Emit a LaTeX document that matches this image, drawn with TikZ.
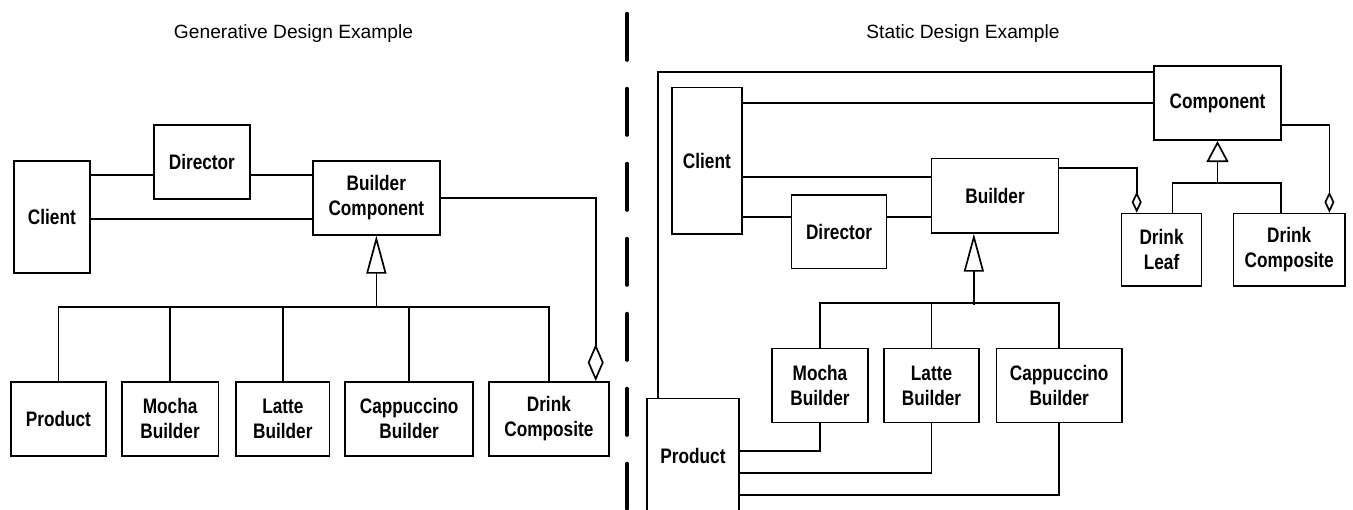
\documentclass[tikz,border=0pt]{standalone}
\usepackage{fontspec}
\setmainfont{Liberation Sans}
\newfontface\boxfont[FakeStretch=0.82]{Liberation Sans Bold}
\usetikzlibrary{arrows.meta, calc}

\begin{document}
\begin{tikzpicture}[x = 0.5pt, y = -0.5pt, line width = 0.85pt,
        box/.style = {draw, anchor = north west, inner sep = 0pt, align = center,
            font = \fontsize{10.5}{12.5}\boxfont},
        title/.style = {anchor = base, font = \fontsize{9.6}{11}\selectfont},
        divider/.style = {line width = 1.7pt, line cap = round, dash pattern = on 23.3pt off 14.2pt},
        isa/.style = {-{Triangle[open, length = 19pt, width = 10pt]}},
        isa small/.style = {-{Triangle[open, length = 10.5pt, width = 11pt]}},
        has/.style = {-{Diamond[open, length = 18.5pt, width = 8pt]}},
        has small/.style = {-{Diamond[open, length = 10.5pt, width = 5pt]}}]
    \useasboundingbox (0, 0) rectangle (1353, 509);

    \node [title] (gentitle) at (293.5, 38.5) {Generative Design Example};
    \node [title] (stattitle) at (963, 38.5) {Static Design Example};
    \draw [divider] (627, 13.5) -- (627, 509);

    % generative
    \node [box, minimum width = 38pt, minimum height = 56pt] (client) at (13, 160) {Client};
    \node [box, minimum width = 48pt, minimum height = 37pt] (director) at (153, 124) {Director};
    \node [box, minimum width = 63.5pt, minimum height = 37pt] (bcomp) at (312, 160) {Builder\\Component};
    \node [box, minimum width = 47.5pt, minimum height = 37pt] (product) at (10, 381) {Product};
    \node [box, minimum width = 48.25pt, minimum height = 37pt] (mocha) at (121, 381) {Mocha\\Builder};
    \node [box, minimum width = 46.7pt, minimum height = 37pt] (latte) at (235.3, 381) {Latte\\Builder};
    \node [box, minimum width = 63.9pt, minimum height = 37pt] (capp) at (344.4, 381) {Cappuccino\\Builder};
    \node [box, minimum width = 60pt, minimum height = 37pt] (drinkc) at (488, 381) {Drink\\Composite};

    \draw (client.east |- 0,175) -- (director.west |- 0,175);
    \draw (director.east |- 0,175) -- (bcomp.west |- 0,175);
    \draw (client.east |- 0,219) -- (bcomp.west |- 0,219);
    \draw [has] (bcomp.east) -| ($(drinkc.north east) + (-14, 0)$);
    \draw (product.north) |- (drinkc.north |- 0,307) -- (drinkc.north);
    \foreach \n in {mocha, latte, capp}
        \draw (\n.north) -- (\n.north |- 0,307);
    \draw [isa] (bcomp.south |- 0,307) -- (bcomp.south);

    % static
    \node [box, minimum width = 35pt, minimum height = 73.3pt] (sclient) at (671, 86.7) {Client};
    \node [box, minimum width = 47.5pt, minimum height = 36.85pt] (sdirector) at (790.7, 194) {Director};
    \node [box, minimum width = 63.5pt, minimum height = 37.15pt] (builder) at (930.7, 157.7) {Builder};
    \node [box, minimum width = 63.35pt, minimum height = 37.15pt] (component) at (1153.3, 65) {Component};
    \node [box, minimum width = 40pt, minimum height = 36.15pt] (leaf) at (1120.7, 212.7) {Drink\\Leaf};
    \node [box, minimum width = 55.65pt, minimum height = 36.15pt] (sdrinkc) at (1232.7, 212.7) {Drink\\Composite};
    \node [box, minimum width = 48.15pt, minimum height = 37pt] (smocha) at (771, 347.7) {Mocha\\Builder};
    \node [box, minimum width = 47.35pt, minimum height = 37pt] (slatte) at (883.3, 347.7) {Latte\\Builder};
    \node [box, minimum width = 62.65pt, minimum height = 37pt] (scapp) at (995.7, 347.7) {Cappuccino\\Builder};
    \node [box, minimum width = 46.15pt, minimum height = 57.15pt] (sproduct) at (646, 397.7) {Product};

    \draw ($(sproduct.north west) + (12, 0)$) |- (component.west |- 0,72);
    \draw (sclient.east |- component.west) -- (component.west);
    \draw (sclient.east |- 0,176.7) -- (builder.west |- 0,176.7);
    \draw (sclient.east |- 0,216.7) -- (sdirector.west |- 0,216.7);
    \draw (sdirector.east |- 0,216.7) -- (builder.west |- 0,216.7);
    \draw [has small] (builder.east |- 0,168.3) -| ($(leaf.north west) + (16, 0)$);
    \draw [has small] (component.east |- 0,125) -| ($(sdrinkc.north east) + (-16.3, 0)$);
    \draw ($(leaf.north) + (11, 0)$) -- ++(0, -29.4) -| ($(sdrinkc.north) + (-8.3, 0)$);
    \draw [isa small] (component.south |- 0,183.3) -- (component.south);
    \draw (smocha.north) |- (scapp.north |- 0,303.3) -- (scapp.north);
    \draw (slatte.north) -- (slatte.north |- 0,303.3);
    \draw [isa] ($(builder.south) + (-21.2, 71.6)$) -- ($(builder.south) + (-21.2, 0)$);
    \draw (smocha.south) |- (sproduct.east |- 0,450.7);
    \draw (slatte.south) |- (sproduct.east |- 0,473.3);
    \draw (scapp.south) |- (sproduct.east |- 0,495);
\end{tikzpicture}
\end{document}
